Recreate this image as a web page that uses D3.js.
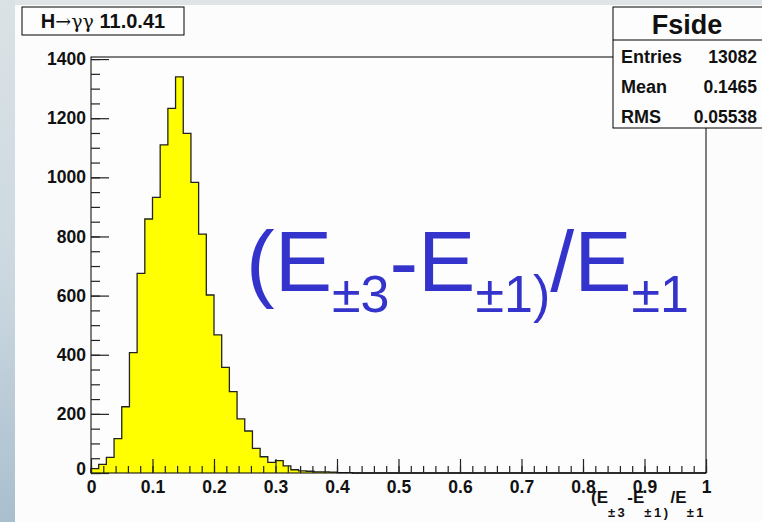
<!DOCTYPE html>
<html>
<head>
<meta charset="utf-8">
<script src="https://cdn.jsdelivr.net/npm/d3@7"></script>
<style>
  body { margin: 0; background: #dfe4e7; }
  svg { display: block; }
</style>
</head>
<body>
<svg id="chart" width="762" height="522"></svg>
<script>
// histogram "Fside": 80 bins from 0 to 1
const xMin = 0;
const xMax = 1;
const binCounts = [
  15, 29, 53, 116, 224, 407, 675, 859, 932, 1110,
  1233, 1340, 1149, 983, 808, 602, 467, 357, 275, 183,
  142, 83, 55, 36, 42, 24, 11, 7, 6, 4,
  4, 3, 1, 1, 0, 0, 0, 0, 0, 0,
  0, 0, 0, 0, 0, 0, 0, 0, 0, 0,
  0, 0, 0, 0, 0, 0, 0, 0, 0, 0,
  0, 0, 0, 0, 0, 0, 0, 0, 0, 0,
  0, 0, 0, 0, 0, 0, 0, 0, 0, 0
];
const xTicks = [0, 0.1, 0.2, 0.3, 0.4, 0.5, 0.6, 0.7, 0.8, 0.9, 1];
const xTickLabels = ["0", "0.1", "0.2", "0.3", "0.4", "0.5", "0.6", "0.7", "0.8", "0.9", "1"];
const yTicks = [0, 200, 400, 600, 800, 1000, 1200, 1400];
const statsRows = [["Entries", "13082"], ["Mean", "0.1465"], ["RMS", "0.05538"]];

(function() {
  const INK = "#000";
  const FILL = "#ffff00";
  const BLUE = "#3434cc";
  const FONT = "'Liberation Sans', Arial, sans-serif";

  const svg = d3.select("#chart");

  // page background
  const defs = svg.append("defs");
  const grad = defs.append("linearGradient")
    .attr("id", "side").attr("x1", 0).attr("y1", 0).attr("x2", 0).attr("y2", 1);
  grad.append("stop").attr("offset", "0%").attr("stop-color", "#dbe2e6");
  grad.append("stop").attr("offset", "55%").attr("stop-color", "#cbd7df");
  grad.append("stop").attr("offset", "100%").attr("stop-color", "#a9bfce");

  svg.append("rect").attr("width", 762).attr("height", 522).attr("fill", "#dfe4e7");
  svg.append("rect").attr("width", 15).attr("height", 522).attr("fill", "url(#side)");
  svg.append("rect").attr("x", 15).attr("y", 5).attr("width", 747).attr("height", 517).attr("fill", "#fcfcfc");

  const frame = { left: 91, right: 706, top: 57, bottom: 473 };
  const binWidth = (xMax - xMin) / binCounts.length;

  const x = d3.scaleLinear().domain([xMin, xMax]).range([frame.left, frame.right]);
  const y = d3.scaleLinear().domain([0, d3.max(binCounts) * 1.05]).range([frame.bottom, frame.top]);

  // plot area
  svg.append("rect")
    .attr("x", frame.left).attr("y", frame.top)
    .attr("width", frame.right - frame.left).attr("height", frame.bottom - frame.top)
    .attr("fill", "#fdfdfd");

  // histogram as a step outline
  const pts = [[x(xMin), y(0)]];
  binCounts.forEach((c, i) => {
    const lo = xMin + i * binWidth;
    pts.push([x(lo), y(c)]);
    pts.push([x(lo + binWidth), y(c)]);
  });
  pts.push([x(xMax), y(0)]);

  svg.append("path")
    .attr("d", d3.line()(pts) + "Z")
    .attr("fill", FILL)
    .attr("stroke", "none");
  svg.append("path")
    .attr("d", d3.line()(pts))
    .attr("fill", "none")
    .attr("stroke", "#222")
    .attr("stroke-width", 1.3);

  // frame
  svg.append("rect")
    .attr("x", frame.left).attr("y", frame.top)
    .attr("width", frame.right - frame.left).attr("height", frame.bottom - frame.top)
    .attr("fill", "none").attr("stroke", INK).attr("stroke-width", 1);

  function styleAxis(g) {
    g.select(".domain").remove();
    g.selectAll("line").attr("stroke", "#222").attr("stroke-width", 1.2);
    g.selectAll("text")
      .attr("font-family", FONT)
      .attr("font-weight", 700)
      .attr("font-size", 17.5)
      .attr("fill", "#111");
  }

  // y axis, ticks pointing inwards
  svg.append("g")
    .attr("transform", `translate(${frame.left},0)`)
    .call(d3.axisLeft(y).tickValues(d3.range(0, 1401, 50)).tickSize(-9).tickFormat(""))
    .call(styleAxis);
  svg.append("g")
    .attr("transform", `translate(${frame.left},0)`)
    .call(d3.axisLeft(y).tickValues(yTicks).tickSize(-18).tickPadding(5).tickFormat(d3.format("d")))
    .call(styleAxis)
    .call(g => g.selectAll("text").filter(d => d === 0).attr("dy", "0.1em"));

  // x axis
  svg.append("g")
    .attr("transform", `translate(0,${frame.bottom})`)
    .call(d3.axisBottom(x).tickValues(d3.range(0, 1.001, 0.02)).tickSize(-7).tickFormat(""))
    .call(styleAxis);
  svg.append("g")
    .attr("transform", `translate(0,${frame.bottom})`)
    .call(d3.axisBottom(x).tickValues(xTicks).tickSize(-14).tickPadding(8)
      .tickFormat((d, i) => xTickLabels[i]))
    .call(styleAxis);

  const subParts = [["(E", "±3"], ["-E", "±1)"], ["/E", "±1"]];

  // x axis title with subscripts
  const xt = svg.append("text")
    .attr("x", frame.right).attr("y", 503)
    .attr("text-anchor", "end")
    .attr("font-family", FONT).attr("font-weight", 700)
    .attr("fill", "#111");
  subParts.forEach(([main, sub], i) => {
    xt.append("tspan").attr("font-size", 17).attr("letter-spacing", 0).attr("dy", i === 0 ? 0 : -14).text(main);
    xt.append("tspan").attr("font-size", 13).attr("dy", 14).attr("letter-spacing", 2.5).text(sub);
  });

  // big blue annotation
  const big = svg.append("text")
    .attr("x", 246).attr("y", 291)
    .attr("font-family", FONT)
    .attr("fill", BLUE);
  subParts.forEach(([main, sub], i) => {
    big.append("tspan").attr("font-size", 86).attr("dy", i === 0 ? 0 : -21).text(main);
    big.append("tspan").attr("font-size", 52).attr("dy", 21).text(sub);
  });

  // title box
  svg.append("rect")
    .attr("x", 22).attr("y", 7).attr("width", 162).attr("height", 28)
    .attr("fill", "#fdfdfd").attr("stroke", INK).attr("stroke-width", 1);
  const title = svg.append("text")
    .attr("x", 103).attr("y", 28)
    .attr("text-anchor", "middle")
    .attr("font-family", FONT).attr("font-size", 20).attr("font-weight", 700)
    .attr("fill", "#111");
  title.append("tspan").text("H");
  title.append("tspan").attr("font-weight", 400).attr("font-family", "'DejaVu Serif', serif").attr("font-size", 19).text("→γγ");
  title.append("tspan").text(" 11.0.41");

  // stats box
  const sx = 613, sy = 7, sw = 160, sh = 121;
  svg.append("rect")
    .attr("x", sx).attr("y", sy).attr("width", sw).attr("height", sh)
    .attr("fill", "#fdfdfd").attr("stroke", INK).attr("stroke-width", 1);
  svg.append("line")
    .attr("x1", sx).attr("x2", sx + sw).attr("y1", 40).attr("y2", 40)
    .attr("stroke", INK).attr("stroke-width", 1);
  svg.append("text")
    .attr("x", 687).attr("y", 34)
    .attr("text-anchor", "middle")
    .attr("font-family", FONT).attr("font-size", 27).attr("font-weight", 700)
    .attr("fill", "#111")
    .text("Fside");

  const rowY = d3.scalePoint().domain(statsRows.map(r => r[0])).range([63, 123]);
  statsRows.forEach(([label, value]) => {
    svg.append("text")
      .attr("x", 621).attr("y", rowY(label))
      .attr("font-family", FONT).attr("font-size", 18).attr("font-weight", 700)
      .attr("fill", "#111").text(label);
    svg.append("text")
      .attr("x", 757).attr("y", rowY(label))
      .attr("text-anchor", "end")
      .attr("font-family", FONT).attr("font-size", 17.5).attr("font-weight", 700)
      .attr("fill", "#111").text(value);
  });
})();
</script>
</body>
</html>
